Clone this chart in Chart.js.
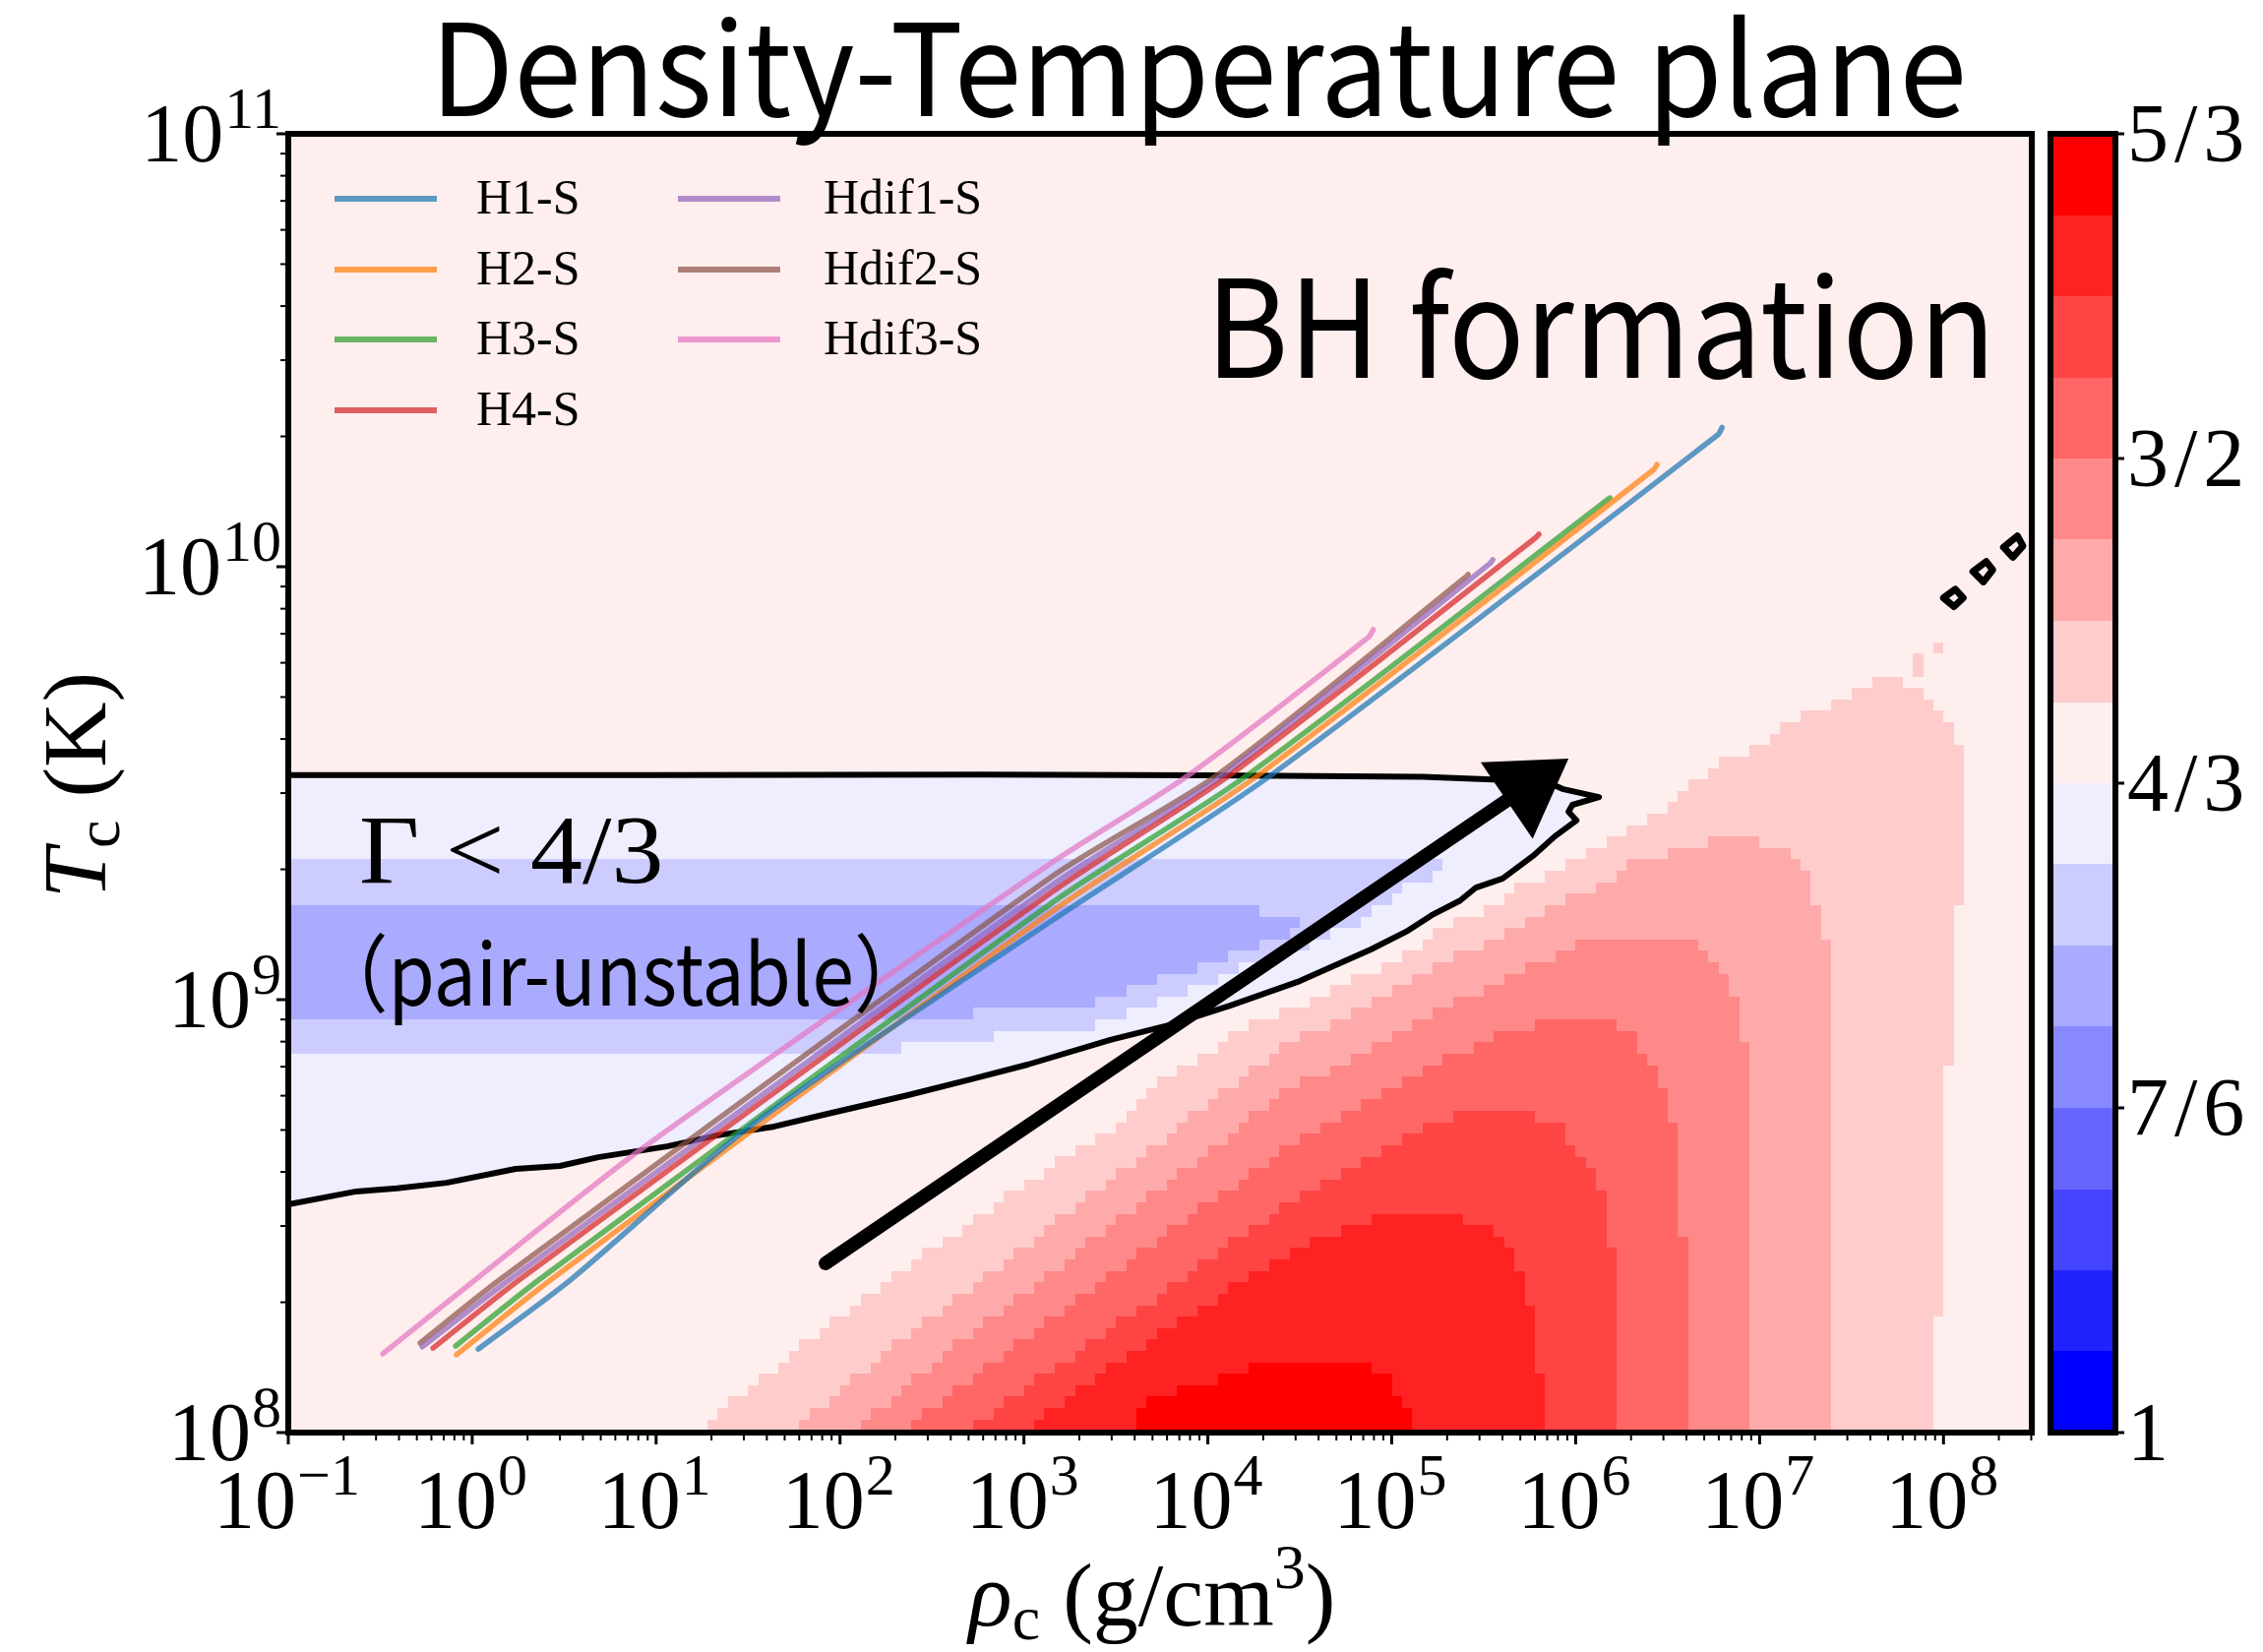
<!DOCTYPE html>
<html>
<head>
<meta charset="utf-8">
<script src="https://cdn.jsdelivr.net/npm/chart.js@4/dist/chart.umd.min.js"></script>
<style>
  html, body { margin: 0; padding: 0; background: #ffffff; }
  canvas { display: block; }
</style>
</head>
<body>
<canvas id="plane" width="2300" height="1679"></canvas>
<script>
// ---------------- axes (decimal logarithms) ----------------
const LOG_RHO_MIN = -1, LOG_RHO_MAX = 8.48;
const LOG_T_MIN = 8, LOG_T_MAX = 11;
const X_MAJOR_EXP = [-1, 0, 1, 2, 3, 4, 5, 6, 7, 8];
const Y_MAJOR_EXP = [8, 9, 10, 11];
const MINOR_MULT = [2, 3, 4, 5, 6, 7, 8, 9];

// ---------------- adiabatic index colour scale ----------------
const GAMMA_MIN = 1, GAMMA_MAX = 5 / 3;
const LEVEL_COLORS = ['#0000ff', '#2222ff', '#4444ff', '#6666ff', '#8888ff', '#aaaaff', '#ccccff', '#eeeeff',
                      '#ffeeee', '#ffcccc', '#ffaaaa', '#ff8888', '#ff6666', '#ff4444', '#ff2222', '#ff0000'];
const BACKGROUND_LEVEL = 8;           // 4/3 <= Gamma < 4/3 + 1/24
const CONTOUR_FILL_LEVEL = 7;         // just below 4/3
const CBAR_TICKS = [1, 7 / 6, 4 / 3, 3 / 2, 5 / 3];
const CBAR_LABELS = ['1', '7/6', '4/3', '3/2', '5/3'];

// grid of the Gamma table: log rho step, log T step, one log T cell edge
const GAMMA_GRID = { dLogRho: 1 / 18, dLogT: 0.0264, logTEdge: 8.1623 };

// outlines of the Gamma levels, [log rho, log T]
const BLUE_6 = [[-1.2, 9.318], [5.265, 9.318], [5.265, 9.293], [5.10, 9.264], [4.934, 9.211], [4.72, 9.157],
  [4.431, 9.105], [4.169, 9.077], [3.939, 9.025], [3.725, 8.998], [3.441, 8.945], [3.163, 8.918],
  [2.836, 8.918], [2.836, 8.893], [2.333, 8.893], [2.333, 8.864], [-1.2, 8.864]];
const BLUE_5 = [[-1.2, 9.211], [4.275, 9.211], [4.275, 9.184], [4.49, 9.184], [4.49, 9.157], [4.33, 9.13],
  [4.17, 9.105], [4.0, 9.077], [3.79, 9.052], [3.56, 9.025], [3.23, 8.973], [2.72, 8.973], [2.72, 8.943],
  [-1.2, 8.943]];
const RED_9 = [[1.29, 7.95], [1.285, 8.034], [1.79, 8.198], [2.18, 8.327], [2.62, 8.457], [3.06, 8.589],
  [3.49, 8.707], [3.72, 8.809], [3.94, 8.859], [4.16, 8.927], [4.37, 8.966], [4.67, 9.018], [4.88, 9.064],
  [5.12, 9.107], [5.335, 9.184], [5.498, 9.209], [5.725, 9.266], [5.886, 9.291], [5.993, 9.316],
  [6.113, 9.345], [6.22, 9.37], [6.327, 9.395], [6.501, 9.452], [6.662, 9.509], [6.836, 9.564],
  [6.996, 9.584], [7.165, 9.639], [7.33, 9.668], [7.443, 9.693], [7.665, 9.745], [7.777, 9.745],
  [7.777, 9.72], [7.879, 9.72], [7.879, 9.693], [7.946, 9.693], [7.946, 9.668], [7.994, 9.668],
  [7.994, 9.639], [8.053, 9.639], [8.053, 9.584], [8.106, 9.584], [8.106, 9.209], [8.053, 9.209],
  [8.053, 8.859], [7.994, 8.859], [7.994, 8.273], [7.946, 8.273], [7.946, 7.95]];
const RED_9_CELL_A = [[7.834, 9.745], [7.887, 9.745], [7.887, 9.802], [7.834, 9.802]];
const RED_9_CELL_B = [[7.946, 9.802], [7.994, 9.802], [7.994, 9.831], [7.946, 9.831]];
const RED_10 = [[1.73, 7.95], [1.73, 8.0], [2.24, 8.181], [4.39, 8.886], [4.49, 8.916], [4.67, 8.941],
  [4.77, 8.968], [4.88, 8.995], [5.0, 9.02], [5.11, 9.045], [5.22, 9.077], [5.33, 9.10], [5.50, 9.127],
  [5.60, 9.152], [5.72, 9.184], [5.83, 9.209], [5.94, 9.236], [6.15, 9.264], [6.325, 9.318], [6.55, 9.345],
  [6.77, 9.37], [6.99, 9.37], [6.99, 9.345], [7.15, 9.345], [7.15, 9.318], [7.21, 9.318], [7.21, 9.291],
  [7.28, 9.291], [7.28, 9.21], [7.33, 9.21], [7.33, 9.134], [7.38, 9.134], [7.38, 7.95]];
const RED_11 = [[2.06, 7.95], [2.06, 8.0], [2.57, 8.181], [4.39, 8.777], [4.49, 8.807], [4.67, 8.834],
  [4.77, 8.86], [4.88, 8.886], [5.0, 8.916], [5.11, 8.941], [5.22, 8.968], [5.33, 8.995], [5.50, 9.02],
  [5.60, 9.048], [5.72, 9.075], [5.886, 9.10], [6.05, 9.132], [6.66, 9.132], [6.66, 9.10], [6.715, 9.10],
  [6.715, 9.075], [6.77, 9.075], [6.77, 9.049], [6.83, 9.049], [6.83, 8.996], [6.88, 8.996], [6.88, 8.89],
  [6.94, 8.89], [6.94, 7.95]];
const RED_12 = [[2.33, 7.95], [2.33, 8.0], [2.88, 8.181], [4.39, 8.648], [4.49, 8.673], [4.60, 8.698],
  [4.72, 8.727], [4.83, 8.752], [4.94, 8.777], [5.05, 8.807], [5.16, 8.834], [5.27, 8.86], [5.44, 8.886],
  [5.55, 8.916], [5.78, 8.943], [6.22, 8.943], [6.22, 8.916], [6.325, 8.916], [6.325, 8.886], [6.38, 8.886],
  [6.38, 8.86], [6.44, 8.86], [6.44, 8.807], [6.50, 8.807], [6.50, 8.727], [6.55, 8.727], [6.55, 8.459],
  [6.61, 8.459], [6.61, 7.95]];
const RED_13 = [[2.66, 7.95], [2.66, 8.0], [3.28, 8.181], [4.39, 8.516], [4.49, 8.541], [4.60, 8.566],
  [4.72, 8.593], [4.83, 8.623], [4.94, 8.648], [5.05, 8.675], [5.16, 8.702], [5.28, 8.727], [5.55, 8.752],
  [5.78, 8.752], [5.78, 8.727], [5.94, 8.727], [5.94, 8.675], [5.99, 8.675], [5.99, 8.648], [6.05, 8.648],
  [6.05, 8.623], [6.11, 8.623], [6.11, 8.566], [6.16, 8.566], [6.16, 8.434], [6.22, 8.434], [6.22, 7.95]];
const RED_14 = [[3.0, 7.95], [3.0, 8.0], [3.57, 8.181], [4.39, 8.407], [4.55, 8.432], [4.67, 8.459],
  [4.83, 8.486], [5.05, 8.511], [5.38, 8.511], [5.38, 8.486], [5.55, 8.486], [5.55, 8.459], [5.60, 8.459],
  [5.60, 8.432], [5.66, 8.432], [5.66, 8.377], [5.72, 8.377], [5.72, 8.298], [5.77, 8.298], [5.77, 8.136],
  [5.83, 8.136], [5.83, 7.95]];
const RED_15 = [[3.61, 7.95], [3.61, 8.061], [3.77, 8.09], [4.0, 8.114], [4.16, 8.141], [4.39, 8.162],
  [4.883, 8.162], [4.883, 8.137], [4.998, 8.137], [4.998, 8.085], [5.052, 8.085], [5.052, 8.057],
  [5.11, 8.057], [5.11, 7.95]];

// later entries are painted over earlier ones
const GAMMA_REGIONS = [
  { level: 6, outline: BLUE_6 }, { level: 5, outline: BLUE_5 },
  { level: 9, outline: RED_9 }, { level: 9, outline: RED_9_CELL_A }, { level: 9, outline: RED_9_CELL_B },
  { level: 10, outline: RED_10 }, { level: 11, outline: RED_11 }, { level: 12, outline: RED_12 },
  { level: 13, outline: RED_13 }, { level: 14, outline: RED_14 }, { level: 15, outline: RED_15 }
];

// Gamma = 4/3 contour
const CONTOUR_MAIN = [[-1.0, 9.519], [1.0, 9.519], [2.78, 9.52], [4.0, 9.518], [5.169, 9.515], [5.651, 9.507],
  [5.886, 9.495], [5.934, 9.486], [6.127, 9.468], [5.982, 9.45], [5.961, 9.434], [6.004, 9.414],
  [5.886, 9.377], [5.768, 9.332], [5.603, 9.28], [5.458, 9.259], [5.372, 9.229], [5.217, 9.195],
  [5.078, 9.157], [4.886, 9.116], [4.50, 9.043], [4.12, 8.986], [3.79, 8.941], [3.47, 8.907], [3.02, 8.85],
  [2.713, 8.816], [2.365, 8.779], [1.91, 8.734], [1.643, 8.707], [1.327, 8.686], [1.06, 8.661],
  [0.686, 8.636], [0.477, 8.616], [0.236, 8.609], [-0.14, 8.577], [-0.41, 8.564], [-0.63, 8.557],
  [-1.0, 8.527]];
const CONTOUR_ISLANDS = [
  [[8.000, 9.928], [8.064, 9.948], [8.107, 9.928], [8.057, 9.908]],
  [[8.160, 9.989], [8.232, 10.012], [8.268, 9.993], [8.217, 9.965]],
  [[8.326, 10.045], [8.402, 10.071], [8.432, 10.048], [8.377, 10.022]]
];

// ---------------- central evolution tracks [log rho_c, log T_c] ----------------
const TRACK_NAMES = ['H1-S', 'H2-S', 'H3-S', 'H4-S', 'Hdif1-S', 'Hdif2-S', 'Hdif3-S'];
const TRACK_COLORS = ['#1f77b4', '#ff7f0e', '#2ca02c', '#d62728', '#9467bd', '#8c564b', '#e377c2'];
const TRACK_H1 = [[0.033, 8.193], [0.541, 8.355], [1.515, 8.709], [3.157, 9.184], [4.345, 9.519],
  [6.774, 10.305], [6.796, 10.322]];
const TRACK_H2 = [[-0.085, 8.180], [0.434, 8.355], [3.157, 9.205], [4.276, 9.519],
  [6.426, 10.225], [6.442, 10.236]];
const TRACK_H3 = [[-0.090, 8.200], [0.370, 8.355], [3.157, 9.225], [4.217, 9.519], [6.186, 10.159]];
const TRACK_H4 = [[-0.213, 8.195], [0.263, 8.355], [3.157, 9.250], [4.120, 9.519],
  [5.779, 10.066], [5.800, 10.075]];
const TRACK_HDIF1 = [[-0.272, 8.198], [0.209, 8.355], [3.157, 9.266], [4.083, 9.519],
  [5.533, 10.007], [5.549, 10.016]];
const TRACK_HDIF2 = [[-0.283, 8.207], [0.156, 8.355], [3.157, 9.286], [4.051, 9.519],
  [5.399, 9.975], [5.415, 9.982]];
const TRACK_HDIF3 = [[-0.486, 8.182], [0.022, 8.355], [0.926, 8.657], [3.157, 9.318], [3.896, 9.519],
  [4.870, 9.836], [4.900, 9.855]];
const TRACKS = [TRACK_H1, TRACK_H2, TRACK_H3, TRACK_H4, TRACK_HDIF1, TRACK_HDIF2, TRACK_HDIF3];

// arrow towards collapse, [log rho, log T]
const ARROW_TAIL = [1.921, 8.391];
const ARROW_TIP = [5.961, 9.557];

// text anchored in data space (left end of baseline)
const NOTE_BH = { text: 'BH formation', at: [3.987, 10.436] };
const NOTE_GAMMA = { text: 'Γ < 4/3', at: [-0.615, 9.270] };
const NOTE_PAIR = { text: '（pair-unstable）', at: [-0.866, 8.986] };
const TITLE = 'Density-Temperature plane';

// ---------------- helpers ----------------
const SERIF = '"Liberation Serif", "DejaVu Serif", serif';
const SANS = '"Noto Sans CJK JP", "Noto Sans", sans-serif';

function rgba(hex, a) {
  const n = parseInt(hex.slice(1), 16);
  return `rgba(${(n >> 16) & 255},${(n >> 8) & 255},${n & 255},${a})`;
}
function pxX(chart, lr) { return chart.scales.x.getPixelForValue(Math.pow(10, lr)); }
function pxY(chart, lt) { return chart.scales.y.getPixelForValue(Math.pow(10, lt)); }
function inside(poly, x, y) {
  let c = false;
  for (let i = 0, j = poly.length - 1; i < poly.length; j = i++) {
    const [xi, yi] = poly[i], [xj, yj] = poly[j];
    if (((yi > y) !== (yj > y)) && (x < (xj - xi) * (y - yi) / (yj - yi) + xi)) c = !c;
  }
  return c;
}
function tracePath(ctx, chart, pts, close) {
  ctx.beginPath();
  pts.forEach(([a, b], k) => {
    const X = pxX(chart, a), Y = pxY(chart, b);
    if (k === 0) ctx.moveTo(X, Y); else ctx.lineTo(X, Y);
  });
  if (close) ctx.closePath();
}
function buildTicks(exps) {
  const out = [];
  exps.forEach(e => {
    out.push({ value: Math.pow(10, e), major: true, exp: e });
    MINOR_MULT.forEach(m => out.push({ value: m * Math.pow(10, e), major: false }));
  });
  return out;
}
// text squeezed or stretched horizontally, left end of baseline at (x, y)
function scaledText(ctx, text, font, x, y, sx) {
  ctx.save();
  ctx.font = font;
  ctx.translate(x, y);
  ctx.scale(sx, 1);
  ctx.fillText(text, 0, 0);
  ctx.restore();
}
// "10" with a raised exponent; yMid is the vertical centre of the "10"
function drawPower(ctx, exp, x, yMid, align) {
  const base = '10', sup = exp < 0 ? '\u2212' + (-exp) : String(exp);
  ctx.font = `84px ${SERIF}`;
  const wb = ctx.measureText(base).width;
  ctx.font = `60px ${SERIF}`;
  const ws = ctx.measureText(sup).width;
  const left = align === 'center' ? x - (wb + ws) / 2 : x - (wb + ws);
  const baseLine = yMid + 28;
  ctx.font = `84px ${SERIF}`;
  ctx.fillText(base, left, baseLine);
  ctx.font = `60px ${SERIF}`;
  ctx.fillText(sup, left + wb + 1, baseLine - 34);
}

// ---------------- Gamma map, contour (under the tracks) ----------------
const gammaMapPlugin = {
  id: 'gammaMap',
  beforeDatasetsDraw(chart) {
    const { ctx, chartArea: a } = chart;
    ctx.save();
    ctx.beginPath();
    ctx.rect(a.left, a.top, a.right - a.left, a.bottom - a.top);
    ctx.clip();
    ctx.fillStyle = LEVEL_COLORS[BACKGROUND_LEVEL];
    ctx.fillRect(a.left, a.top, a.right - a.left, a.bottom - a.top);

    // region below 4/3, bounded by the contour
    ctx.fillStyle = LEVEL_COLORS[CONTOUR_FILL_LEVEL];
    tracePath(ctx, chart, CONTOUR_MAIN.concat([[-1.5, 8.527], [-1.5, 9.519]]), true);
    ctx.fill();

    // tabulated cells
    const g = GAMMA_GRID;
    const i0 = Math.floor(LOG_RHO_MIN / g.dLogRho), i1 = Math.ceil(LOG_RHO_MAX / g.dLogRho);
    const j0 = Math.floor((LOG_T_MIN - g.logTEdge) / g.dLogT), j1 = Math.ceil((LOG_T_MAX - g.logTEdge) / g.dLogT);
    for (let i = i0; i < i1; i++) {
      const xa = i * g.dLogRho, xb = xa + g.dLogRho, xc = xa + g.dLogRho / 2;
      const L = Math.round(pxX(chart, xa)), R = Math.round(pxX(chart, xb));
      for (let j = j0; j < j1; j++) {
        const ya = g.logTEdge + j * g.dLogT, yb = ya + g.dLogT, yc = ya + g.dLogT / 2;
        let lvl = -1;
        for (const r of GAMMA_REGIONS) if (inside(r.outline, xc, yc)) lvl = r.level;
        if (lvl < 0) continue;
        const T = Math.round(pxY(chart, yb)), B = Math.round(pxY(chart, ya));
        ctx.fillStyle = LEVEL_COLORS[lvl];
        ctx.fillRect(L, T, R - L, B - T);
      }
    }

    // contour line
    ctx.strokeStyle = '#000000';
    ctx.lineWidth = 6;
    ctx.lineJoin = 'round';
    tracePath(ctx, chart, CONTOUR_MAIN, false);
    ctx.stroke();
    ctx.lineWidth = 7;
    CONTOUR_ISLANDS.forEach(p => { tracePath(ctx, chart, p, true); ctx.stroke(); });
    ctx.restore();
  }
};

// ---------------- arrow, notes, legend, frame, axes, colour bar ----------------
const decorPlugin = {
  id: 'decor',
  afterDatasetsDraw(chart) {
    const { ctx, chartArea: a } = chart;
    ctx.save();
    // arrow
    const x0 = pxX(chart, ARROW_TAIL[0]), y0 = pxY(chart, ARROW_TAIL[1]);
    const x1 = pxX(chart, ARROW_TIP[0]), y1 = pxY(chart, ARROW_TIP[1]);
    const ang = Math.atan2(y1 - y0, x1 - x0), c = Math.cos(ang), s = Math.sin(ang);
    const headLen = 76, headHalf = 47;
    const bx = x1 - headLen * c, by = y1 - headLen * s;
    ctx.strokeStyle = '#000000';
    ctx.fillStyle = '#000000';
    ctx.lineWidth = 14;
    ctx.lineCap = 'round';
    ctx.beginPath(); ctx.moveTo(x0, y0); ctx.lineTo(bx + 6 * c, by + 6 * s); ctx.stroke();
    ctx.beginPath();
    ctx.moveTo(x1, y1);
    ctx.lineTo(bx - headHalf * s, by + headHalf * c);
    ctx.lineTo(bx + headHalf * s, by - headHalf * c);
    ctx.closePath();
    ctx.fill();

    // notes
    ctx.fillStyle = '#000000';
    ctx.textBaseline = 'alphabetic';
    ctx.textAlign = 'left';
    scaledText(ctx, NOTE_BH.text, `138px ${SANS}`, pxX(chart, NOTE_BH.at[0]), pxY(chart, NOTE_BH.at[1]), 0.93);
    scaledText(ctx, NOTE_GAMMA.text, `100px ${SERIF}`, pxX(chart, NOTE_GAMMA.at[0]), pxY(chart, NOTE_GAMMA.at[1]), 1.06);
    scaledText(ctx, NOTE_PAIR.text, `86px ${SANS}`, pxX(chart, NOTE_PAIR.at[0]), pxY(chart, NOTE_PAIR.at[1]), 0.89);

    // legend, two columns
    const cols = [{ line: 47, text: 191 }, { line: 396, text: 544 }];
    const rows = [66, 138, 209, 281];
    ctx.font = `50px ${SERIF}`;
    ctx.textBaseline = 'middle';
    TRACK_NAMES.forEach((name, k) => {
      const col = cols[k < 4 ? 0 : 1], y = a.top + rows[k < 4 ? k : k - 4];
      ctx.strokeStyle = rgba(TRACK_COLORS[k], 0.72);
      ctx.lineWidth = 6;
      ctx.lineCap = 'butt';
      ctx.beginPath();
      ctx.moveTo(a.left + col.line, y);
      ctx.lineTo(a.left + col.line + 104, y);
      ctx.stroke();
      ctx.fillStyle = '#000000';
      ctx.fillText(name, a.left + col.text, y + 2);
    });
    ctx.restore();
  },
  afterDraw(chart) {
    const { ctx, chartArea: a } = chart;
    const xs = chart.scales.x, ys = chart.scales.y;
    ctx.save();
    ctx.strokeStyle = '#000000';
    ctx.fillStyle = '#000000';

    // ticks
    xs.ticks.forEach(t => {
      const X = xs.getPixelForValue(t.value);
      if (X < a.left - 1 || X > a.right + 1) return;
      ctx.lineWidth = t.major ? 3 : 2;
      ctx.beginPath(); ctx.moveTo(X, a.bottom); ctx.lineTo(X, a.bottom + (t.major ? 12 : 8)); ctx.stroke();
    });
    ys.ticks.forEach(t => {
      const Y = ys.getPixelForValue(t.value);
      if (Y < a.top - 1 || Y > a.bottom + 1) return;
      ctx.lineWidth = t.major ? 3 : 2;
      ctx.beginPath(); ctx.moveTo(a.left, Y); ctx.lineTo(a.left - (t.major ? 12 : 8), Y); ctx.stroke();
    });
    // frame
    ctx.lineWidth = 6;
    ctx.strokeRect(a.left, a.top, a.right - a.left, a.bottom - a.top);

    // tick labels
    ctx.textAlign = 'left';
    ctx.textBaseline = 'alphabetic';
    xs.ticks.filter(t => t.major).forEach(t => drawPower(ctx, t.exp, xs.getPixelForValue(t.value) - 2, a.bottom + 69, 'center'));
    ys.ticks.filter(t => t.major).forEach(t => drawPower(ctx, t.exp, a.left - 8, ys.getPixelForValue(t.value), 'right'));

    // axis titles
    ctx.textAlign = 'left';
    // x: rho_c (g/cm^3)
    {
      const parts = [
        { t: 'ρ', f: `italic 92px ${SERIF}`, dy: 0 },
        { t: 'c', f: `64px ${SERIF}`, dy: 14 },
        { t: ' (g/cm', f: `92px ${SERIF}`, dy: 0 },
        { t: '3', f: `64px ${SERIF}`, dy: -38 },
        { t: ')', f: `92px ${SERIF}`, dy: 0 }
      ];
      let w = 0;
      parts.forEach(p => { ctx.font = p.f; p.w = ctx.measureText(p.t).width; w += p.w; });
      let x = (a.left + a.right) / 2 - w / 2 - 8;
      const base = a.bottom + 196;
      parts.forEach(p => { ctx.font = p.f; ctx.fillText(p.t, x, base + p.dy); x += p.w; });
    }
    // y: T_c (K)
    {
      const parts = [
        { t: 'T', f: `italic 92px ${SERIF}`, dy: 0 },
        { t: 'c', f: `64px ${SERIF}`, dy: 14 },
        { t: ' (K)', f: `92px ${SERIF}`, dy: 0 }
      ];
      let w = 0;
      parts.forEach(p => { ctx.font = p.f; p.w = ctx.measureText(p.t).width; w += p.w; });
      ctx.save();
      ctx.translate(a.left - 186, (a.top + a.bottom) / 2 + 2);
      ctx.rotate(-Math.PI / 2);
      let x = -w / 2;
      parts.forEach(p => { ctx.font = p.f; ctx.fillText(p.t, x, p.dy); x += p.w; });
      ctx.restore();
    }

    // title
    ctx.font = `130px ${SANS}`;
    const tw = ctx.measureText(TITLE).width * 0.95;
    scaledText(ctx, TITLE, `130px ${SANS}`, 1218 - tw / 2, a.top - 18, 0.95);

    // colour bar
    const cb = { left: a.right + 19, right: a.right + 85, top: a.top, bottom: a.bottom };
    const gy = v => cb.bottom - (v - GAMMA_MIN) / (GAMMA_MAX - GAMMA_MIN) * (cb.bottom - cb.top);
    const n = LEVEL_COLORS.length, step = (GAMMA_MAX - GAMMA_MIN) / n;
    LEVEL_COLORS.forEach((col, k) => {
      const yA = Math.round(gy(GAMMA_MIN + k * step)), yB = Math.round(gy(GAMMA_MIN + (k + 1) * step));
      ctx.fillStyle = col;
      ctx.fillRect(cb.left, yB, cb.right - cb.left, yA - yB);
    });
    ctx.lineWidth = 6;
    ctx.strokeStyle = '#000000';
    ctx.strokeRect(cb.left, cb.top, cb.right - cb.left, cb.bottom - cb.top);
    ctx.fillStyle = '#000000';
    ctx.textAlign = 'left';
    CBAR_TICKS.forEach((v, k) => {
      const Y = gy(v);
      ctx.lineWidth = 3;
      ctx.beginPath(); ctx.moveTo(cb.right, Y); ctx.lineTo(cb.right + 9, Y); ctx.stroke();
      ctx.font = `84px ${SERIF}`;
      let x = cb.right + 12;
      [...CBAR_LABELS[k]].forEach(ch => { ctx.fillText(ch, x, Y + 28); x += ctx.measureText(ch).width + 6; });
    });
    ctx.restore();
  }
};

// ---------------- chart ----------------
new Chart(document.getElementById('plane'), {
  type: 'scatter',
  data: {
    datasets: TRACKS.map((pts, k) => ({
      label: TRACK_NAMES[k],
      data: pts.map(([lr, lt]) => ({ x: Math.pow(10, lr), y: Math.pow(10, lt) })),
      showLine: true,
      borderColor: rgba(TRACK_COLORS[k], 0.72),
      backgroundColor: rgba(TRACK_COLORS[k], 0.72),
      borderWidth: 5.5,
      pointRadius: 0,
      tension: 0.25,
      borderCapStyle: 'round',
      borderJoinStyle: 'round'
    }))
  },
  options: {
    responsive: false,
    animation: false,
    devicePixelRatio: 1,
    layout: { padding: { left: 293, right: 235, top: 136, bottom: 223 } },
    plugins: { legend: { display: false }, tooltip: { enabled: false }, title: { display: false } },
    scales: {
      x: {
        type: 'logarithmic',
        min: Math.pow(10, LOG_RHO_MIN), max: Math.pow(10, LOG_RHO_MAX),
        grid: { display: false, drawTicks: false }, border: { display: false }, ticks: { display: false },
        afterBuildTicks: s => { s.ticks = buildTicks(X_MAJOR_EXP); },
        afterFit: s => { s.height = 0; }
      },
      y: {
        type: 'logarithmic',
        min: Math.pow(10, LOG_T_MIN), max: Math.pow(10, LOG_T_MAX),
        grid: { display: false, drawTicks: false }, border: { display: false }, ticks: { display: false },
        afterBuildTicks: s => { s.ticks = buildTicks(Y_MAJOR_EXP); },
        afterFit: s => { s.width = 0; }
      }
    }
  },
  plugins: [gammaMapPlugin, decorPlugin]
});
</script>
</body>
</html>
